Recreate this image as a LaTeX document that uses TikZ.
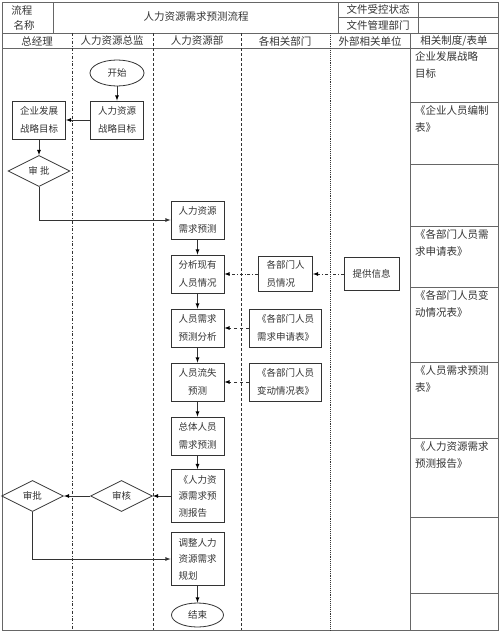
\documentclass[tikz,border=0pt]{standalone}
\usepackage{fontspec}
\setmainfont{Noto Sans CJK SC}
\usetikzlibrary{shapes.geometric, positioning}

\definecolor{framegray}{gray}{0.4}
\definecolor{inkgray}{gray}{0.2}

\tikzset{
  frame/.style={draw=framegray, line width=0.7pt},
  lane/.style={draw=inkgray, line width=0.9pt},
  box/.style={draw=inkgray, line width=0.8pt, minimum width=53pt, minimum height=38pt,
    inner sep=1pt, align=center, font=\fontsize{9.5}{18}\selectfont},
  tallbox/.style={box, minimum height=53pt, align=left, font=\fontsize{9.5}{16.5}\selectfont},
  check/.style={draw=inkgray, line width=0.8pt, diamond, aspect=2, minimum width=62pt,
    minimum height=31pt, inner sep=0pt, font=\fontsize{9.5}{12}\selectfont},
  term/.style={draw=inkgray, line width=0.8pt, ellipse, minimum width=54pt,
    minimum height=26pt, inner sep=0pt, font=\fontsize{9.5}{12}\selectfont},
  form/.style={anchor=north west, align=left, inner sep=0pt, font=\fontsize{10.5}{17}\selectfont}
}

\begin{document}
\begin{tikzpicture}[x=1pt, y=-1pt, >=latex, node distance=54pt, on grid,
    font=\fontsize{10.5}{14}\selectfont, text=inkgray]
  \useasboundingbox (0,0) rectangle (500,632);

  \draw[frame] (2,2) rectangle (498,630);
  \draw[frame] (2,33) -- (498,33) (2,48) -- (498,48) (338,17) -- (498,17)
    (53,2) -- (53,33) (338,2) -- (338,33) (418,2) -- (418,33) (410,33) -- (410,630);
  \foreach \y in {102,164,226,287,362,438,517,593}
    \draw[frame] (410,\y) -- (498,\y);
  \draw[lane, line width=0.5pt, dash dot] (72,33) -- (72,630);
  \draw[lane, densely dashed] (153,33) -- (153,630);
  \draw[lane, densely dashed] (241,33) -- (241,630);
  \draw[lane, densely dotted] (330,33) -- (330,630);

  \node (lc1) at (22,10) {流程};
  \node (lc2) at (24,25) {名称};
  \node (title) at (196,17) {人力资源需求预测流程};
  \node (st1) at (378,9) {文件受控状态};
  \node (st2) at (378,25) {文件管理部门};
  \node (h1) at (37,41) {总经理};
  \node (h2) at (112,41) {人力资源总监};
  \node (h3) at (197,41) {人力资源部};
  \node (h4) at (285,41) {各相关部门};
  \node (h5) at (370,41) {外部相关单位};
  \node (h6) at (454,41) {相关制度/表单};

  \node[form] (r1) at (415,51) {企业发展战略\\目标};
  \node[form] (r2) at (415,105) {《企业人员编制\\表》};
  \node[form] (r4) at (415,229) {《各部门人员需\\求申请表》};
  \node[form] (r5) at (415,290) {《各部门人员变\\动情况表》};
  \node[form] (r6) at (415,365) {《人员需求预测\\表》};
  \node[form] (r7) at (415,441) {《人力资源需求\\预测报告》};

  \node[term] (start) at (117,73) {开始};
  \node[box] (hr) [below=47pt of start] {人力资源\\战略目标};
  \node[box] (qy) [left=78pt of hr] {企业发展\\战略目标};
  \node[check] (sp1) [below=51pt of qy] {审 批};
  \node[box] (xq) at (197.5,220) {人力资源\\需求预测};
  \node[box] (fx) [below=of xq] {分析现有\\人员情况};
  \node[box] (yc) [below=of fx] {人员需求\\预测分析};
  \node[box] (ls) [below=of yc] {人员流失\\预测};
  \node[box] (zt) [below=of ls] {总体人员\\需求预测};
  \node[tallbox] (bg) [below=60pt of zt] {《人力资\\源需求预\\测报告};
  \node[tallbox] (tz) [below=63pt of bg] {调整人力\\资源需求\\规划};
  \node[term, minimum width=52pt, minimum height=24pt] (end) [below=56pt of tz] {结束};
  \node[box, minimum width=54pt, minimum height=35pt, align=left] (gb) [right=88pt of fx] {各部门人\\员情况};
  \node[box, minimum width=55pt, minimum height=33pt] (tg) [right=86pt of gb] {提供信息};
  \node[box, minimum width=72pt] (sq) [right=88pt of yc] {《各部门人员\\需求申请表》};
  \node[box, minimum width=72pt] (bd) [right=88pt of ls] {《各部门人员\\变动情况表》};
  \node[check] (sh) [left=76pt of bg] {审核};
  \node[check] (sp2) [left=89pt of sh] {审批};

  \path[->, draw=inkgray, line width=0.8pt]
    (start) edge (hr)
    (hr) edge (qy)
    (qy) edge (sp1)
    (xq) edge (fx)
    (fx) edge (yc)
    (yc) edge (ls)
    (ls) edge (zt)
    (zt) edge (bg)
    (bg) edge (sh)
    (sh) edge (sp2)
    (tz) edge (end);
  \draw[->, draw=inkgray, line width=0.8pt] (sp1) |- (xq);
  \draw[->, draw=inkgray, line width=0.8pt] (sp2) |- (tz);
  \path[->, draw=inkgray, line width=0.8pt, dash dot] (tg) edge (gb) (gb) edge (fx);
  \path[->, draw=inkgray, line width=0.8pt, dashed] (sq) edge (yc) (bd) edge (ls);
\end{tikzpicture}
\end{document}
